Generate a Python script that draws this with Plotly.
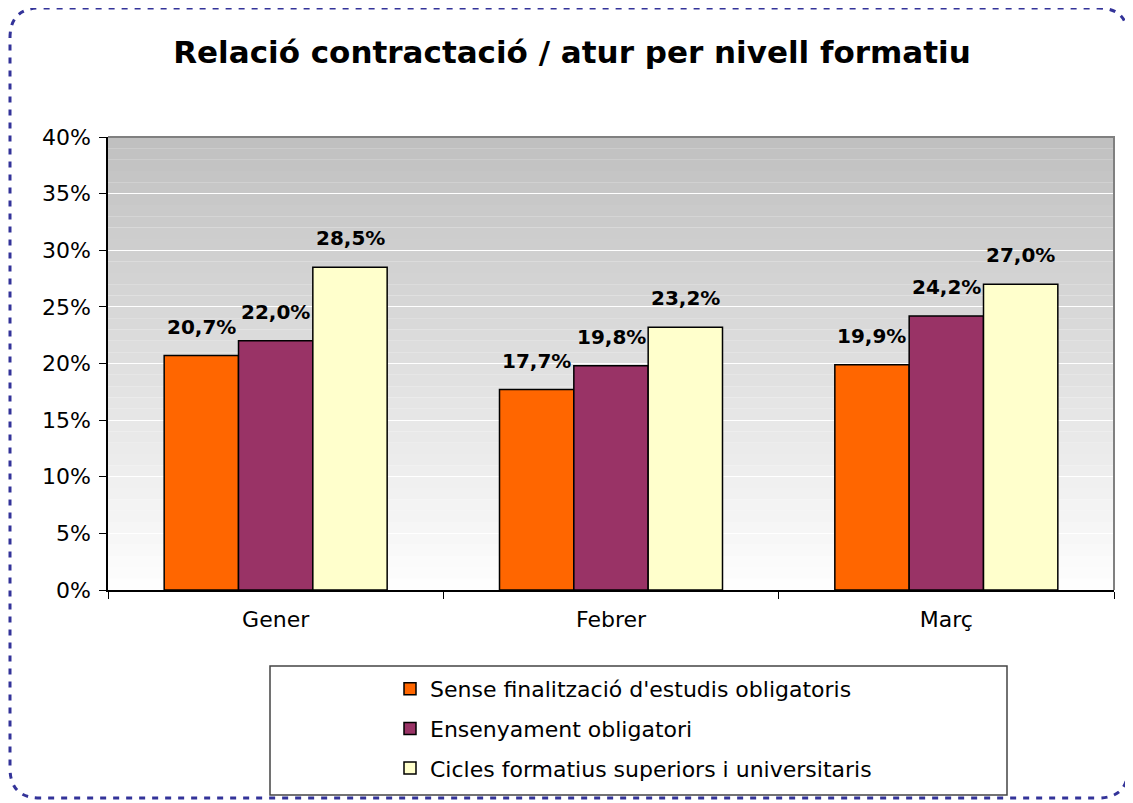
import plotly.graph_objects as go

# dades
mesos = ['Gener', 'Febrer', 'Març']
sense_finalitzacio = [20.7, 17.7, 19.9]
ensenyament_obligatori = [22.0, 19.8, 24.2]
cicles_universitaris = [28.5, 23.2, 27.0]

series = [
    ("Sense finalització d'estudis obligatoris", sense_finalitzacio, '#FF6600'),
    ('Ensenyament obligatori', ensenyament_obligatori, '#993366'),
    ('Cicles formatius superiors i universitaris', cicles_universitaris, '#FFFFCC'),
]

# la pagina html te 8px de marge al body: es compensa aqui
OFF = 8
W, H = 1133 - OFF, 803 - OFF
ML, MR, MT, MB = 108 - OFF, 19, 137 - OFF, 213
pw, ph = W - ML - MR, H - MT - MB
bargap = 0.335
bar_px = pw / len(mesos) * (1 - bargap) / len(series)

FONT = 'DejaVu Sans, Liberation Sans, Arial, sans-serif'


def px(x):
    # coordenada de pantalla -> paper
    return (x - OFF - ML) / pw


def py(y):
    return (H + OFF - MB - y) / ph


fig = go.Figure()

for i, (nom, vals, col) in enumerate(series):
    fig.add_trace(go.Bar(x=mesos, y=vals, name=nom, legendgroup=nom,
                         marker=dict(color=col, line=dict(color='black', width=1.5))))
    for m, v in zip(mesos, vals):
        fig.add_annotation(x=m, y=v, text=f'<b>{v:.1f}%</b>'.replace('.', ','),
                           showarrow=False, xshift=(i - 1) * bar_px, yshift=15,
                           yanchor='bottom', font=dict(size=20, color='black'))

# fons degradat de l'area del grafic
shapes = []
n = 40
for k in range(n):
    g = int(255 - (255 - 192) * (k + 0.5) / n)
    shapes.append(dict(type='rect', xref='paper', yref='y', x0=0, x1=1,
                       y0=40 * k / n, y1=40 * (k + 1) / n, layer='below',
                       line=dict(width=0), fillcolor=f'rgb({g},{g},{g})'))
# vora superior i dreta
shapes.append(dict(type='path', xref='paper', yref='paper', layer='above',
                   path='M 0,1 L 1,1 L 1,0', line=dict(color='#808080', width=2)))

# caixa de la llegenda
shapes.append(dict(type='rect', xref='paper', yref='paper',
                   x0=px(270), x1=px(1007), y0=py(795), y1=py(666),
                   line=dict(color='#444444', width=1.5), fillcolor='white', layer='below'))

# vora puntejada arrodonida
x0, x1, y0, y1, r = 10, 1128, 8, 798, 30
path = (f'M {px(x0)},{py(y0 + r)} Q {px(x0)},{py(y0)} {px(x0 + r)},{py(y0)} '
        f'L {px(x1 - r)},{py(y0)} Q {px(x1)},{py(y0)} {px(x1)},{py(y0 + r)} '
        f'L {px(x1)},{py(y1 - r)} Q {px(x1)},{py(y1)} {px(x1 - r)},{py(y1)} '
        f'L {px(x0 + r)},{py(y1)} Q {px(x0)},{py(y1)} {px(x0)},{py(y1 - r)} Z')
shapes.append(dict(type='path', xref='paper', yref='paper', path=path, layer='below',
                   line=dict(color='#333399', width=3, dash='6px,7px')))

fig.update_layout(
    width=W, height=H,
    margin=dict(l=ML, r=MR, t=MT, b=MB, autoexpand=False),
    paper_bgcolor='white', plot_bgcolor='rgba(0,0,0,0)',
    font=dict(family=FONT, size=22, color='black'),
    separators=',.',
    title=dict(text='<b>Relació contractació / atur per nivell formatiu</b>',
               x=(572 - OFF - ML) / pw, xref='paper', xanchor='center',
               y=1 - (52 - OFF) / H, yref='container', yanchor='middle',
               font=dict(size=31, color='black')),
    barmode='group', bargap=bargap, bargroupgap=0,
    shapes=shapes,
    showlegend=True,
    legend=dict(x=px(390), xanchor='left', y=py(668), yanchor='top',
                bgcolor='rgba(0,0,0,0)', borderwidth=0, traceorder='grouped',
                tracegroupgap=8, font=dict(size=22)),
    xaxis=dict(showline=True, linecolor='black', linewidth=1.5, ticks='outside',
               tickson='boundaries', ticklen=7, tickcolor='black', showgrid=False,
               ticklabelstandoff=9, tickfont=dict(size=22)),
    yaxis=dict(range=[0, 40], dtick=5, ticksuffix='%', showline=True, linecolor='black',
               linewidth=1.5, ticks='outside', ticklen=7, tickcolor='black',
               ticklabelstandoff=4, gridcolor='white', gridwidth=1.2, zeroline=False,
               tickfont=dict(size=22)),
)

fig.write_html('out.html')
